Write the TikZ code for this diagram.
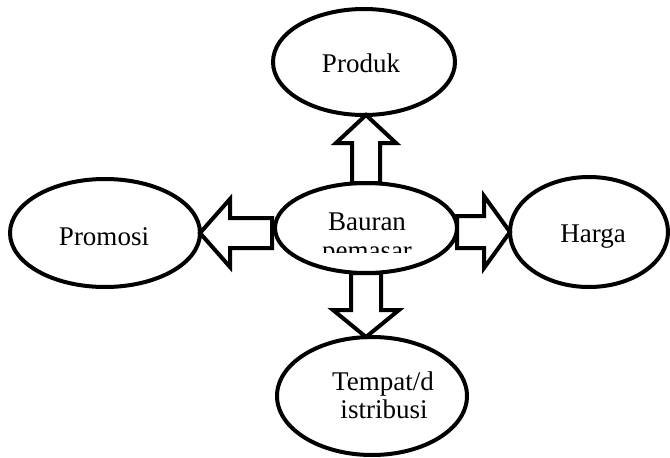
\documentclass[tikz,border=0pt]{standalone}
\usepackage{fontspec}
\setmainfont{Liberation Serif}
\usetikzlibrary{shapes.geometric,calc}
\tikzset{
  oval/.style={draw=black, ellipse, line width=4pt, inner sep=0pt, outer sep=0pt, fill=white},
  lbl/.style={anchor=base, inner sep=0pt, font=\fontsize{27}{29}\selectfont},
  blk/.style={draw=black, fill=white, line width=4pt, line join=miter}
}
\begin{document}
\begin{tikzpicture}[x=1pt,y=-1pt]
\useasboundingbox (0,0) rectangle (670,458);
% ellipses
\node[oval, minimum width=182pt, minimum height=106pt] (p) at (364,62) {};
\node[oval, minimum width=182pt, minimum height=90pt] (c) at (366,228) {};
\node[oval, minimum width=190pt, minimum height=108pt] (pr) at (105,233) {};
\node[oval, minimum width=158pt, minimum height=110pt] (h) at (589,232) {};
\node[oval, minimum width=190pt, minimum height=118pt] (t) at (372,396) {};
% block arrows
% up: c -> p
\coordinate (uptip) at (c.north |- p.south);
\draw[blk] ($(c.north)+(-14,0)$) -- ($(uptip)+(-14,28)$) -- ($(uptip)+(-30,28)$) -- (uptip)
  -- ($(uptip)+(30,28)$) -- ($(uptip)+(14,28)$) -- ($(c.north)+(14,0)$) -- cycle;
% down: c -> t
\coordinate (dntip) at (c.south |- t.north);
\draw[blk] ($(c.south)+(-15,0)$) -- ($(dntip)+(-15,-27)$) -- ($(dntip)+(-33,-27)$) -- (dntip)
  -- ($(dntip)+(33,-27)$) -- ($(dntip)+(15,-27)$) -- ($(c.south)+(15,0)$) -- cycle;
% left: c -> pr
\coordinate (lftip) at (pr.east);
\coordinate (lftail) at ($(c.west |- pr.east)+(-3,0)$);
\draw[blk] ($(lftail)+(0,-15)$) -- ($(lftip)+(30,-15)$) -- ($(lftip)+(30,-34)$) -- (lftip)
  -- ($(lftip)+(30,34)$) -- ($(lftip)+(30,15)$) -- ($(lftail)+(0,15)$) -- cycle;
% right: c -> h
\coordinate (rttip) at (h.west);
\coordinate (rttail) at (c.east |- h.west);
\draw[blk] ($(rttail)+(0,-16)$) -- ($(rttip)+(-26,-16)$) -- ($(rttip)+(-26,-36)$) -- (rttip)
  -- ($(rttip)+(-26,36)$) -- ($(rttip)+(-26,16)$) -- ($(rttail)+(0,16)$) -- cycle;
% labels
\node[lbl] (tp) at (361,72) {Produk};
\node[lbl] (tb) at (367,230) {Bauran};
\begin{scope}
  \clip (200,235) rectangle (540,252);
  \node[lbl] (tpm) at (367,259) {pemasar};
\end{scope}
\node[lbl] (tpr) at (104,245) {Promosi};
\node[lbl] (th) at (593,242) {Harga};
\node[lbl] (tt1) at (383,390) {Tempat/d};
\node[lbl] (tt2) at (384,418) {istribusi};
\end{tikzpicture}
\end{document}
